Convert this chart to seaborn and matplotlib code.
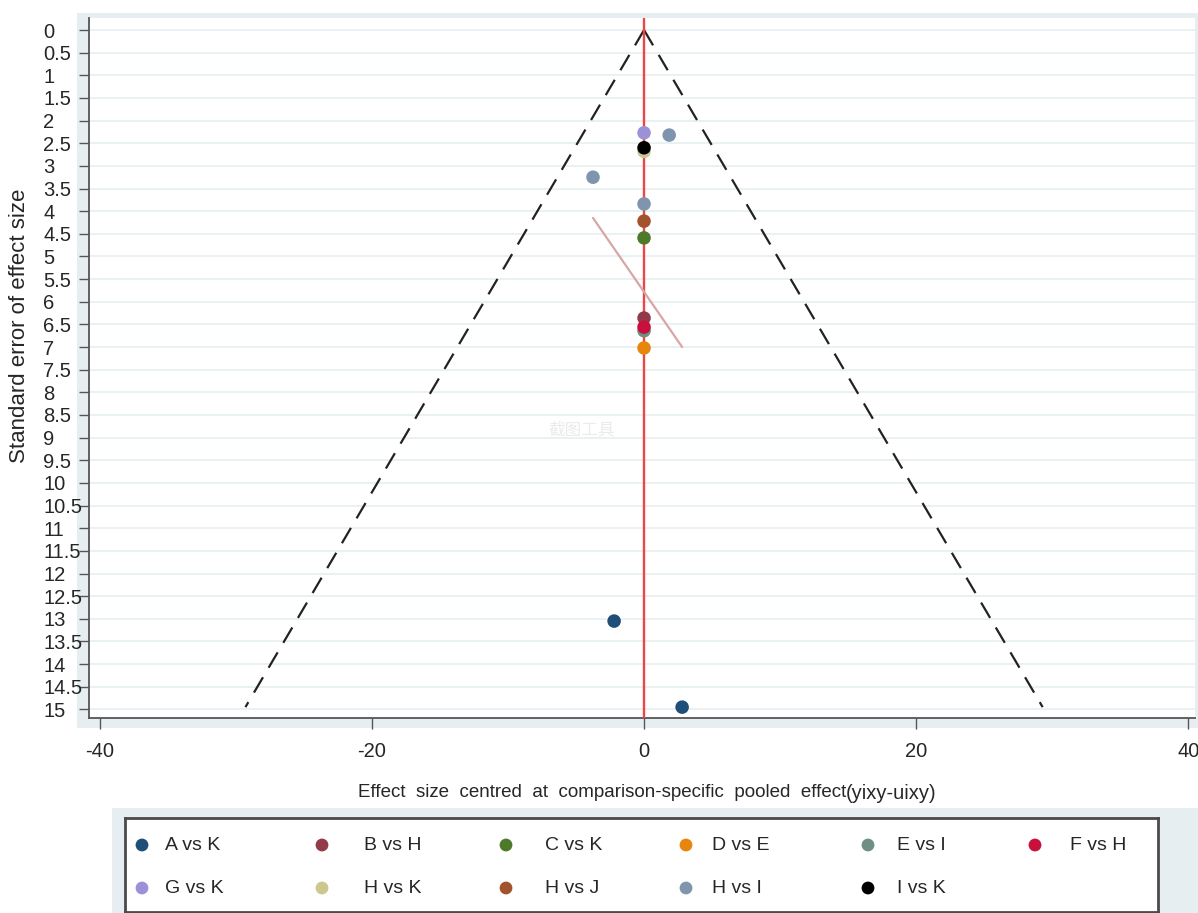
import numpy as np
import pandas as pd
import matplotlib
matplotlib.use("Agg")
import matplotlib.pyplot as plt
from matplotlib.patches import Rectangle
import seaborn as sns

# ---- data -------------------------------------------------------------
comparisons = ["A vs K", "B vs H", "C vs K", "D vs E", "E vs I", "F vs H",
               "G vs K", "H vs K", "H vs J", "H vs I", "I vs K"]
colors = ["#1f4e79", "#923a4a", "#4d7a2a", "#e8850c", "#6f8f85", "#c8103c",
          "#9b91d9", "#cbc78e", "#a2522c", "#7e95ad", "#000000"]

point_comparison = ["G vs K", "H vs I", "H vs K", "I vs K", "H vs I", "H vs I",
                    "H vs J", "C vs K", "B vs H", "E vs I", "F vs H", "D vs E",
                    "A vs K", "A vs K"]
point_effect = [0.0, 1.85, 0.0, 0.0, -3.75, 0.0,
                0.0, 0.0, 0.0, 0.0, 0.0, 0.0,
                -2.2, 2.8]
point_se = [2.27, 2.32, 2.68, 2.60, 3.25, 3.84,
            4.22, 4.59, 6.36, 6.64, 6.56, 7.02,
            13.05, 14.95]

# fitted small-study line
fit_effect = [-3.75, 2.8]
fit_se = [4.15, 7.0]

# pseudo 95% confidence funnel
funnel_se = [0.0, 14.95]
z_crit = 1.96

y_ticks = np.arange(0, 15.5, 0.5)
x_ticks = [-40, -20, 0, 20, 40]

df = pd.DataFrame({"comparison": point_comparison,
                   "effect": point_effect,
                   "se": point_se})
palette = dict(zip(comparisons, colors))

# ---- figure -----------------------------------------------------------
sns.set_style("white")
plt.rcParams["font.family"] = ["Liberation Sans", "DejaVu Sans"]
W, H = 1198, 913
fig = plt.figure(figsize=(W / 100, H / 100), dpi=100)


def fx(px):
    return px / W


def fy(py):
    return 1 - py / H


band = "#e7eef2"
# framed band behind the plot region
fig.patches.append(Rectangle((fx(77), fy(728)), fx(1198) - fx(77), fy(13) - fy(728),
                             transform=fig.transFigure, facecolor=band,
                             edgecolor="none", zorder=-5))
# band behind the legend
fig.patches.append(Rectangle((fx(112), fy(913)), fx(1198) - fx(112), fy(808) - fy(913),
                             transform=fig.transFigure, facecolor=band,
                             edgecolor="none", zorder=-5))

ax = fig.add_axes([fx(89), fy(718), fx(1195) - fx(89), fy(18) - fy(718)])
ax.set_facecolor("white")
ax.set_xlim(-40.8, 40.5)
ax.set_ylim(15.19, -0.265)

# horizontal grid
for yv in y_ticks:
    ax.axhline(yv, color="#e8f0f2", lw=1.3, zorder=1)

# funnel
fse = np.array(funnel_se)
ax.plot(-z_crit * fse, fse, color="#222222", lw=1.6, dashes=(8, 5), zorder=2)
ax.plot(z_crit * fse, fse, color="#222222", lw=1.6, dashes=(8, 5), zorder=2)

# zero line
ax.axvline(0, color="#f04545", lw=1.7, zorder=3)

# studies
sns.scatterplot(data=df, x="effect", y="se", hue="comparison", palette=palette,
                s=95, edgecolor="none", legend=False, ax=ax, zorder=4)

# fitted line
sns.lineplot(x=fit_effect, y=fit_se, color="#d6a7a6", lw=1.6, ax=ax,
             sort=False, zorder=5)

# axes styling
for side in ["top", "right"]:
    ax.spines[side].set_visible(False)
for side in ["left", "bottom"]:
    ax.spines[side].set_color("#555555")
    ax.spines[side].set_linewidth(1.3)

ax.set_yticks(y_ticks)
ax.set_yticklabels([f"{v:g}" for v in y_ticks], fontsize=14.5, ha="left")
ax.tick_params(axis="y", direction="out", length=7, width=1, color="#555555",
               pad=26, left=True)
ax.set_xticks(x_ticks)
ax.set_xticklabels([str(v) for v in x_ticks], fontsize=14.5)
ax.tick_params(axis="x", direction="out", length=8, width=1, color="#555555",
               pad=9, bottom=True)
ax.set_xlabel("")
ax.set_ylabel("")

fig.text(fx(20), fy(326), "Standard error of effect size", rotation=90,
         ha="center", va="center", fontsize=16)
fig.text(fx(846), fy(792), "Effect  size  centred  at  comparison-specific  pooled  effect",
         ha="right", va="center", fontsize=13.5)
fig.text(fx(846), fy(793), "(yixy-uixy)", ha="left", va="center", fontsize=14.5)

# faint screenshot-tool watermark
fig.text(fx(548), fy(430), "截图工具", ha="left", va="center", fontsize=12,
         color="#ebebeb", family=["Noto Sans CJK SC", "DejaVu Sans"], zorder=6)

# ---- legend -----------------------------------------------------------
lax = fig.add_axes([fx(125), fy(912), fx(1158) - fx(125), fy(818) - fy(912)])
lax.set_xlim(125, 1158)
lax.set_ylim(912, 818)
lax.set_xticks([])
lax.set_yticks([])
lax.set_facecolor("white")
for sp in lax.spines.values():
    sp.set_color("#4a4a4a")
    sp.set_linewidth(2)

marker_cols = [142, 322, 506, 686, 868, 1035]
text_cols = [165, 364, 545, 712, 897, 1070]
row_y = [845, 888]
for i, (name, col) in enumerate(zip(comparisons, colors)):
    r, c = divmod(i, 6)
    lax.scatter(marker_cols[c], row_y[r], s=85, color=col, edgecolor="none")
    lax.text(text_cols[c], row_y[r], name, ha="left", va="center", fontsize=14)

fig.savefig("out.png", dpi=100)
